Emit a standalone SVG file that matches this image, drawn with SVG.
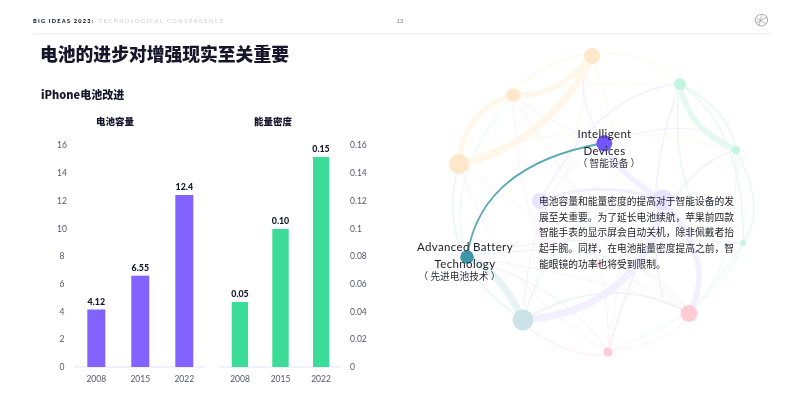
<svg xmlns="http://www.w3.org/2000/svg" width="797" height="407" viewBox="0 0 797 407">
<defs>
<filter id="soft" x="0" y="0" width="100%" height="100%"><feGaussianBlur stdDeviation="0.55"/></filter>
<style>
text{font-family:"Lato","Noto Sans CJK SC",sans-serif;fill:#14142b}
.cn{font-family:"Noto Sans CJK SC",sans-serif}
.b{font-weight:900}
.ax{font-size:8.5px;fill:#55556a;text-anchor:middle}
.axl{font-size:8.5px;fill:#55556a;text-anchor:start}
.val{font-size:8.8px;font-weight:900;text-anchor:middle}
.hd{font-size:9.5px;font-weight:900;text-anchor:middle}
.lab{font-size:11.5px;fill:#22222e;text-anchor:middle;letter-spacing:.35px}
.sub{font-size:9.7px;fill:#2e2e3a;text-anchor:middle}
.body{font-size:9.75px;fill:#22222e}
.c path{fill:none}
.o{stroke:#fff7ea}.g{stroke:#e6f9f1}.p{stroke:#f2efff}.r{stroke:#ffeff2}.t{stroke:#e8f3f4}
.w1{stroke-width:1}.w2{stroke-width:1.5}.w5{stroke-width:5.500}.w7{stroke-width:7}
</style>
</defs>
<rect width="797" height="407" fill="#fff"/>
<g filter="url(#soft)">
<g id="header">
<text x="33" y="23" font-size="5.6" class="b" letter-spacing="1.250">BIG IDEAS 2023:</text>
<text x="99" y="23" font-size="5.6" letter-spacing="1.460" style="fill:#c9c9d6">TECHNOLOGICAL CONVERGENCE</text>
<text x="400" y="23" font-size="5.6" text-anchor="middle" style="fill:#777">13</text>
<line x1="33" y1="34" x2="771" y2="34" stroke="#f0f0f3" stroke-width="1.4"/>
<circle cx="761.500" cy="20" r="6" fill="none" stroke="#999" stroke-width="0.9"/>
<path d="M756 23L767 17M762 14L759 26M757 18L766 24" fill="none" stroke="#999" stroke-width="0.7"/>
</g>
<text x="40" y="61" class="cn b" font-size="17.800">电池的进步对增强现实至关重要</text>
<text x="41" y="99" class="cn b" font-size="11">iPhone电池改进</text>

<g id="chart-capacity">
<text x="115" y="125" class="cn hd">电池容量</text>
<text class="ax" x="62" y="148">16</text><text class="ax" x="62" y="176">14</text><text class="ax" x="62" y="204">12</text><text class="ax" x="62" y="232">10</text><text class="ax" x="62" y="259">8</text><text class="ax" x="62" y="287">6</text><text class="ax" x="62" y="315">4</text><text class="ax" x="62" y="342">2</text><text class="ax" x="62" y="370">0</text>
<line x1="74.500" y1="367" x2="206" y2="367" stroke="#e6e2ff" stroke-width="1.2"/>
<rect x="87.300" y="309.500" width="18" height="57.500" fill="#8364ff"/>
<rect x="131.300" y="275.700" width="18" height="91.300" fill="#8364ff"/>
<rect x="175.300" y="195" width="18" height="172" fill="#8364ff"/>
<text class="val" x="96.300" y="305">4.12</text><text class="val" x="140.300" y="271">6.55</text><text class="val" x="184.300" y="190">12.4</text>
<text class="ax" x="96.300" y="382">2008</text><text class="ax" x="140.300" y="382">2015</text><text class="ax" x="184.300" y="382">2022</text>
</g>

<g id="chart-density">
<text x="273" y="125" class="cn hd">能量密度</text>
<text class="axl" x="350" y="148">0.16</text><text class="axl" x="350" y="176">0.14</text><text class="axl" x="350" y="204">0.12</text><text class="axl" x="350" y="232">0.1</text><text class="axl" x="350" y="259">0.08</text><text class="axl" x="350" y="287">0.06</text><text class="axl" x="350" y="315">0.04</text><text class="axl" x="350" y="342">0.02</text><text class="axl" x="350" y="370">0</text>
<line x1="219" y1="367" x2="342" y2="367" stroke="#e6e2ff" stroke-width="1.2"/>
<rect x="231.700" y="302" width="16.400" height="65" fill="#3bdc97"/>
<rect x="272.300" y="229" width="16.400" height="138" fill="#3bdc97"/>
<rect x="313" y="157" width="16.400" height="210" fill="#3bdc97"/>
<text class="val" x="240" y="297">0.05</text><text class="val" x="280.500" y="224">0.10</text><text class="val" x="321" y="152">0.15</text>
<text class="ax" x="240" y="382">2008</text><text class="ax" x="280.500" y="382">2015</text><text class="ax" x="321" y="382">2022</text>
</g>

<g id="connectors" class="c">
<path class="o w1" d="M592 53Q650 50 680 84"/>
<path class="o w2" d="M513 92Q545 60 592 53"/>
<path class="o w1" d="M592 56Q640 180 608 352"/>
<path class="o w1" d="M513 95Q590 80 680 84"/>
<path class="o w1" d="M459 164Q560 110 736 150"/>
<path class="o w1" d="M592 56Q570 180 523 320"/>
<path class="r w1" d="M459 164Q500 290 608 352"/>
<path class="r w1" d="M513 95Q520 280 599 265"/>
<path class="r w1" d="M459 164Q560 240 689 313"/>
<path class="r w2" d="M528 328Q570 358 608 355"/>
<path class="r w1" d="M608 352Q680 340 689 313"/>
<path class="r w1" d="M513 95Q600 240 689 313"/>
<path class="r w1" d="M599 265Q610 310 608 352"/>
<path class="r w1" d="M467 257Q620 280 689 313"/>
<path class="g w2" d="M459 164Q432 260 523 320"/>
<path class="g w2" d="M680 84Q745 130 743 243"/>
<path class="g w2" d="M680 84Q668 170 710 240"/>
<path class="g w2" d="M736 150Q768 210 743 243"/>
<path class="g w1" d="M743 243Q720 310 608 352"/>
<path class="g w1" d="M743 243Q720 280 689 313"/>
<path class="g w1" d="M736 150Q740 270 689 313"/>
<path class="g w1" d="M513 95Q440 180 467 257"/>
<path class="g w2" d="M680 84Q730 110 736 150"/>
<path class="p w2" d="M680 84Q600 90 540 201"/>
<path class="p w2" d="M680 84Q640 190 663 300"/>
<path class="p w2" d="M736 150Q660 170 608 352"/>
<path class="p w1" d="M604 143Q700 110 736 150"/>
<path class="p w2" d="M592 56Q570 90 604 143"/>
<path class="p w1" d="M513 95Q560 130 604 143"/>
<path class="p w1" d="M604 143Q530 180 523 320"/>
<path class="p w1" d="M467 257Q560 230 743 243"/>
<path class="t w2" d="M523 320Q610 270 689 313"/>
<path class="t w1" d="M467 257Q570 290 608 352"/>
<path class="t w1" d="M523 320Q560 200 663 200"/>
<path class="t w1" d="M467 257Q640 230 689 313"/>
<path class="o w5" d="M459 164C510 155 565 115 592 56" style="stroke-width:7"/>
<path class="o w5" d="M459 160Q465 110 513 95"/>
<path class="o w5" d="M513 95C545 97 567 85 592 56"/>
<path class="g w5" d="M680 84C685 115 705 137 736 150"/>
<path class="t w7" d="M467 257Q500 270 523 320"/>
<path class="p w7" d="M523 320C590 315 650 280 663 200"/>
<path class="p w5" d="M604 143C620 190 685 190 699 270Q700 295 689 313"/>
<path class="p w2" d="M540 201Q600 178 663 200" style="stroke-width:3"/>
<path d="M467 257Q480 165 604 143" stroke="#5aabb6" stroke-width="1.800"/>
</g>

<g id="node-orange-top"><circle cx="592" cy="56" r="8" fill="#ffe8c9"/></g>
<g id="node-orange-mid"><circle cx="513" cy="95" r="6.800" fill="#ffe8c9"/></g>
<g id="node-orange-left"><circle cx="459" cy="164" r="10" fill="#ffe8c9"/></g>
<g id="node-green-top"><circle cx="680" cy="84" r="6" fill="#c5f5df"/></g>
<g id="node-green-mid"><circle cx="736" cy="150" r="4.200" fill="#c5f5df"/></g>
<g id="node-green-low"><circle cx="743" cy="243" r="3" fill="#c5f5df"/></g>
<g id="node-purple-a"><circle cx="540" cy="201" r="8" fill="#e9e4ff"/></g>
<g id="node-purple-b"><circle cx="663" cy="200" r="10.500" fill="#e9e4ff"/></g>
<g id="node-teal-pale"><circle cx="523" cy="320" r="10.500" fill="#cbe3e7"/></g>
<g id="node-pink-large"><circle cx="689" cy="313.500" r="8.500" fill="#ffccd6"/></g>
<g id="node-pink-small"><circle cx="608" cy="352" r="4.500" fill="#ffccd6"/></g>
<g id="node-pink-mid"><circle cx="599" cy="265" r="3" fill="#ffd8df"/></g>
<g id="node-intelligent-devices">
<circle cx="604.300" cy="143.300" r="8" fill="#7256fb"/>
<text class="lab" x="604.500" y="138">Intelligent</text>
<text class="lab" x="604.500" y="154.500">Devices</text>
<text class="sub cn" x="609" y="166.500">（ 智能设备 ）</text>
</g>
<g id="node-advanced-battery">
<circle cx="467" cy="257" r="6.800" fill="#3e97a8"/>
<text class="lab" x="465" y="251">Advanced Battery</text>
<text class="lab" x="465" y="267.500">Technology</text>
<text class="sub cn" x="459.500" y="279.500">（ 先进电池技术 ）</text>
</g>
<g id="description">
<text class="cn body" x="539" y="205">电池容量和能量密度的提高对于智能设备的发</text>
<text class="cn body" x="539" y="221">展至关重要。为了延长电池续航，苹果前四款</text>
<text class="cn body" x="539" y="236">智能手表的显示屏会自动关机，除非佩戴者抬</text>
<text class="cn body" x="539" y="252">起手腕。同样，在电池能量密度提高之前，智</text>
<text class="cn body" x="539" y="268">能眼镜的功率也将受到限制。</text>
</g>
</g>
</svg>
